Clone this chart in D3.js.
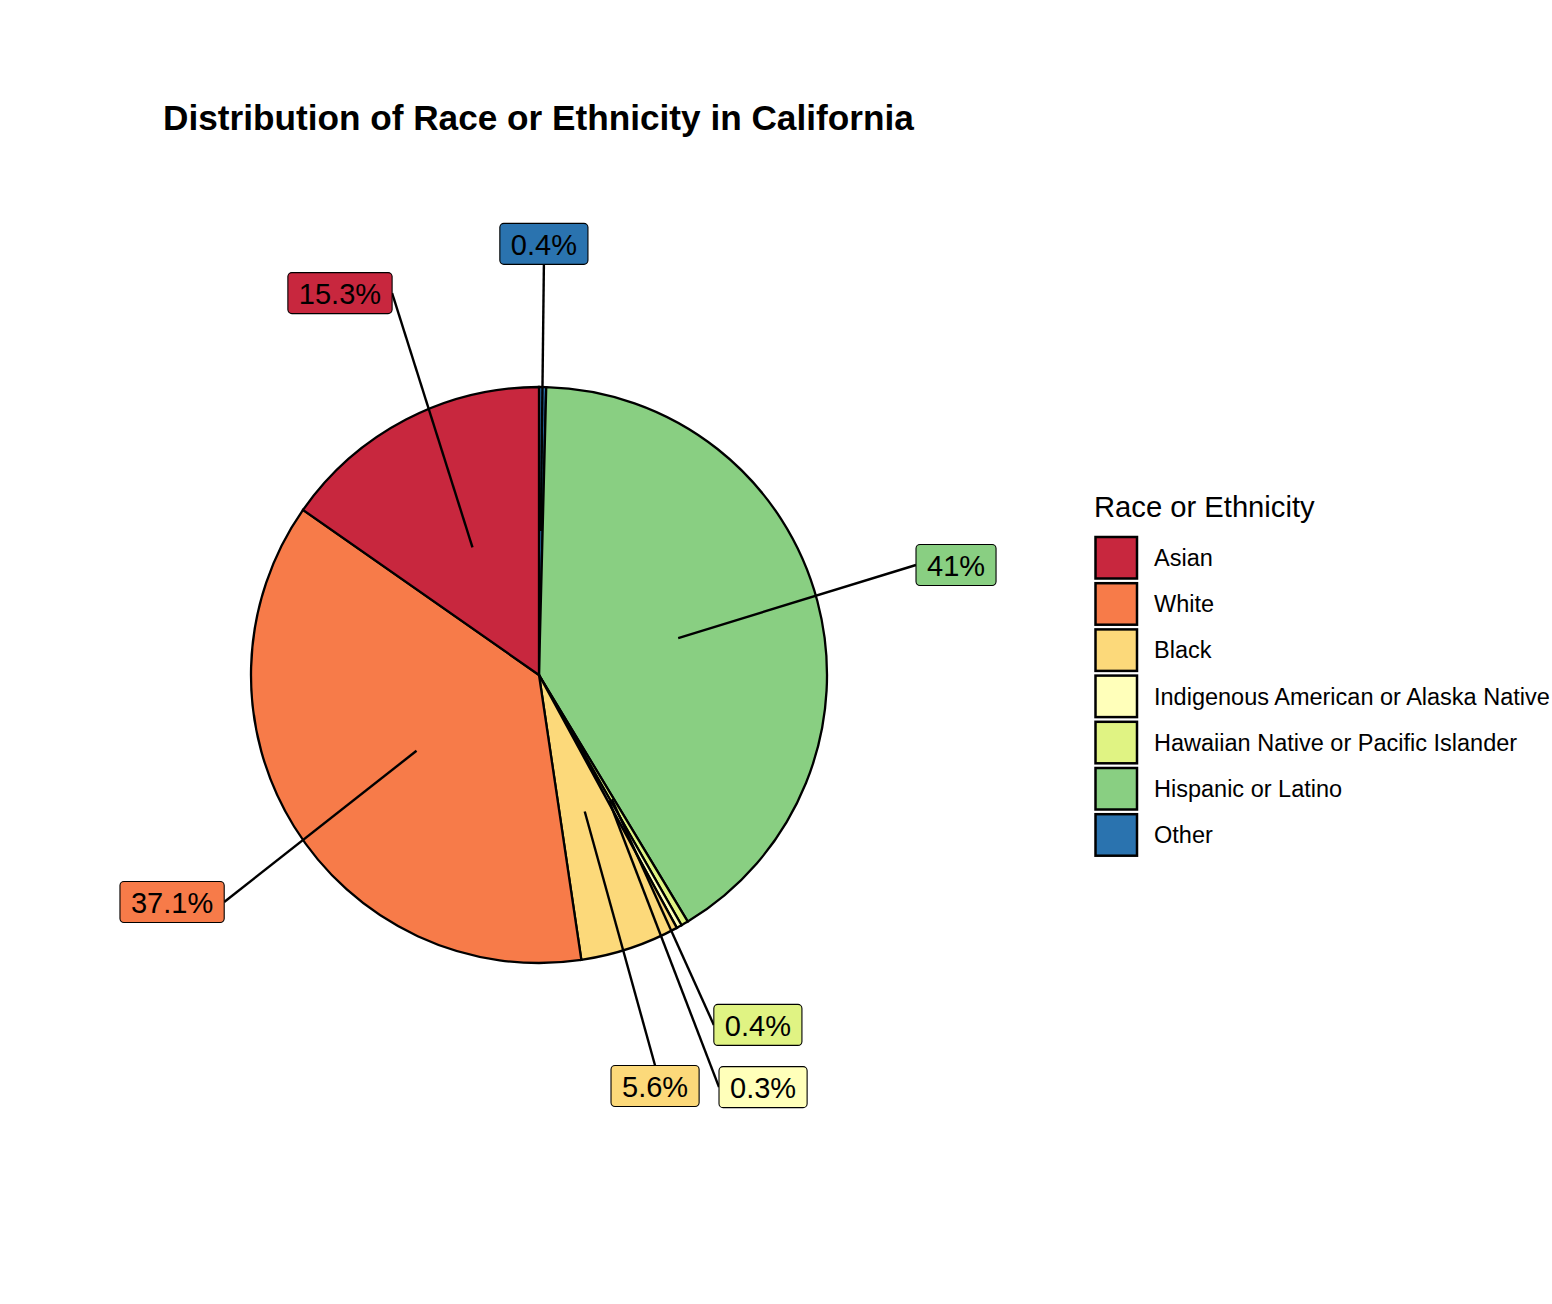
<!DOCTYPE html>
<html>
<head>
<meta charset="utf-8">
<script src="https://cdn.jsdelivr.net/npm/d3@7"></script>
<style>
  html, body { margin: 0; padding: 0; background: #fff; }
  text { font-family: "Liberation Sans", Arial, Helvetica, sans-serif; }
</style>
</head>
<body>
<svg id="chart" width="1552" height="1304"></svg>
<script>
// ---- data ----
const categories = ["Asian", "White", "Black", "Indigenous American or Alaska Native",
  "Hawaiian Native or Pacific Islander", "Hispanic or Latino", "Other"];
const values = [15.3, 37.1, 5.6, 0.3, 0.4, 41, 0.4];
const labels = ["15.3%", "37.1%", "5.6%", "0.3%", "0.4%", "41%", "0.4%"];
const colors = ["#C8273E", "#F77B49", "#FCD97A", "#FFFFBA", "#E0F383", "#89CF82", "#2A73AF"];

// repel-style label placement (offset of label centre from pie centre, in radii)
const labelOffsetX = [-0.691, -1.274, 0.403, 0.778, 0.760, 1.448, 0.017];
const labelOffsetY = [-1.326, 0.788, 1.427, 1.431, 1.215, -0.382, -1.497];

const svg = d3.select("#chart");
const cx = 539, cy = 675, R = 288;

svg.append("text")
  .attr("x", 163).attr("y", 130)
  .attr("font-size", 35.2).attr("font-weight", "bold")
  .text("Distribution of Race or Ethnicity in California");

// pie drawn clockwise from top in reverse legend order
const rows = categories.map((c, i) => ({ cat: c, value: values[i], label: labels[i], color: colors[i], idx: i }));
const pieRows = rows.slice().reverse();
const pie = d3.pie().sort(null).value(d => d.value);
const arcs = pie(pieRows);
const arc = d3.arc().innerRadius(0).outerRadius(R);

const g = svg.append("g").attr("transform", `translate(${cx},${cy})`);
g.selectAll("path.slice").data(arcs).join("path")
  .attr("class", "slice")
  .attr("d", arc)
  .attr("fill", d => d.data.color)
  .attr("stroke", "#000").attr("stroke-width", 2.3);

// labels
const measure = svg.append("text").attr("font-size", 29).attr("visibility", "hidden");
const labG = svg.append("g");
arcs.forEach(a => {
  const d = a.data;
  const mid = (a.startAngle + a.endAngle) / 2;
  const ax = cx + (R / 2) * Math.sin(mid);
  const ay = cy - (R / 2) * Math.cos(mid);
  const lx = cx + labelOffsetX[d.idx] * R;
  const ly = cy + labelOffsetY[d.idx] * R;
  measure.text(d.label);
  const tw = measure.node().getComputedTextLength();
  const bw = tw + 22, bh = 41;
  const x1 = lx - bw / 2, x2 = lx + bw / 2, y1 = ly - bh / 2, y2 = ly + bh / 2;
  const cands = [[x1, ly], [x2, ly], [lx, y1], [lx, y2]];
  let best = cands[0], bd = Infinity;
  cands.forEach(p => { const dd = Math.hypot(p[0] - ax, p[1] - ay); if (dd < bd) { bd = dd; best = p; } });
  labG.append("line")
    .attr("x1", ax).attr("y1", ay).attr("x2", best[0]).attr("y2", best[1])
    .attr("stroke", "#000").attr("stroke-width", 2.4);
  labG.append("rect")
    .attr("x", x1).attr("y", y1).attr("width", bw).attr("height", bh)
    .attr("rx", 4).attr("ry", 4)
    .attr("fill", d.color).attr("stroke", "#000").attr("stroke-width", 1.1);
  labG.append("text")
    .attr("x", lx).attr("y", ly + 11)
    .attr("text-anchor", "middle").attr("font-size", 29)
    .attr("fill", "#000")
    .text(d.label);
});
measure.remove();

// legend
const lg = svg.append("g");
lg.append("text").attr("x", 1094).attr("y", 517).attr("font-size", 29.2).text("Race or Ethnicity");
const ky = d3.scaleBand().domain(categories).range([535, 535 + 46.2 * categories.length]);
rows.forEach(d => {
  const y = ky(d.cat);
  lg.append("rect")
    .attr("x", 1095.5).attr("y", y + 2).attr("width", 41.5).attr("height", 41.5)
    .attr("fill", d.color).attr("stroke", "#000").attr("stroke-width", 2.5);
  lg.append("text")
    .attr("x", 1154).attr("y", y + 23 + 8)
    .attr("font-size", 23.5)
    .text(d.cat);
});
</script>
</body>
</html>
